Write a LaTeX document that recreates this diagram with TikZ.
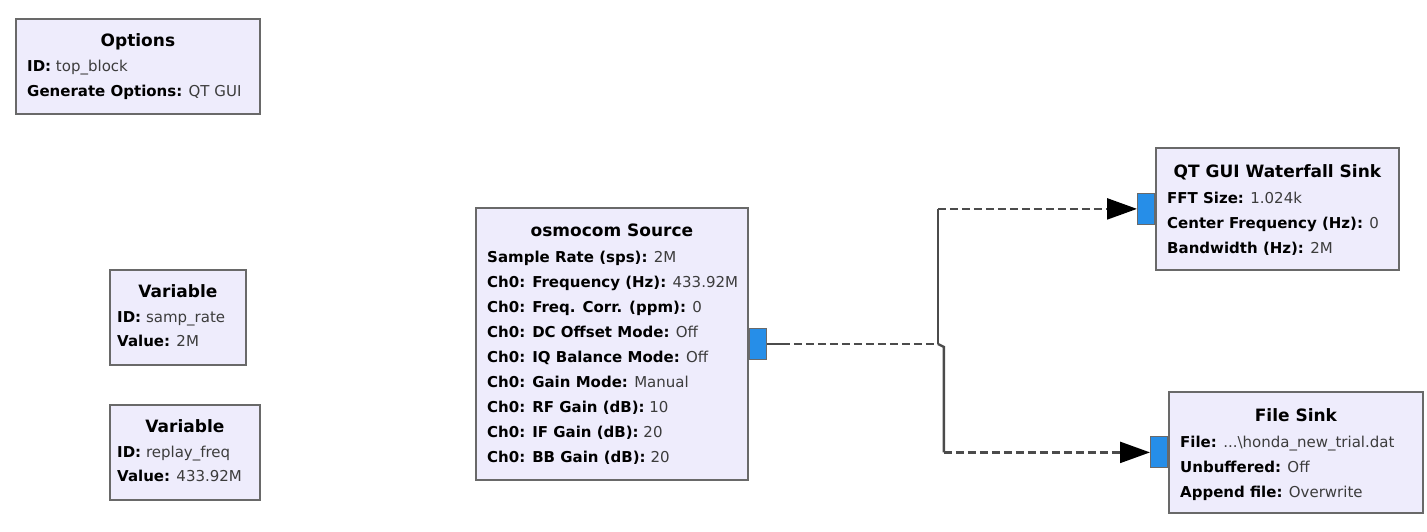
\documentclass[tikz,border=0pt]{standalone}
\usepackage{fontspec}
\setmainfont{DejaVu Sans}
\usetikzlibrary{arrows.meta}
\definecolor{blockfill}{RGB}{238,236,252}
\definecolor{blockline}{RGB}{105,105,105}
\definecolor{portblue}{RGB}{38,142,232}
\definecolor{wiregray}{RGB}{75,75,75}
\definecolor{valgray}{RGB}{60,60,60}
\tikzset{
  block/.style={draw=blockline, fill=blockfill, line width=1.8pt, anchor=north west, inner sep=0pt},
  port/.style={draw=blockline, fill=portblue, line width=1pt, minimum width=17pt, minimum height=31pt, inner sep=0pt},
  title/.style={anchor=base, inner sep=0pt, font=\bfseries\fontsize{17}{19}\selectfont},
  param/.style={anchor=base west, inner sep=0pt, font=\fontsize{15}{17}\selectfont},
  wire/.style={draw=wiregray, line width=2.4pt},
  flow/.style={wire, dash pattern=on 8pt off 4pt},
  tip/.style={-{Triangle[length=30pt,width=21pt,color=black]}}
}
\newcommand\prm[2]{\textbf{#1:} \textcolor{valgray}{#2}}
\newcommand\sinkfile{...\textbackslash honda\_new\_trial.dat}
\begin{document}
\begin{tikzpicture}[x=1pt, y=-1pt]
\useasboundingbox (0,0) rectangle (1427,532);
% blocks
\node[block, minimum width=244pt, minimum height=95pt] (opt) at (15,18) {};
\node[block, minimum width=136pt, minimum height=95pt] (samp) at (109,269) {};
\node[block, minimum width=150pt, minimum height=95pt] (rfreq) at (109,404) {};
\node[block, minimum width=272pt, minimum height=272pt] (src) at (475,207) {};
\node[block, minimum width=243pt, minimum height=122pt] (wf) at (1155,147) {};
\node[block, minimum width=254pt, minimum height=121pt] (fs) at (1168,391) {};
% ports
\node[port, anchor=west] (srcout) at (src.east) {};
\node[port, anchor=east] (wfin) at (wf.west) {};
\node[port, anchor=east] (fsin) at (fs.west) {};
% titles
\node[title] (opt-t) at ([yshift=-29pt]opt.north) {Options};
\node[title] (samp-t) at ([yshift=-28pt]samp.north) {Variable};
\node[title] (rfreq-t) at ([yshift=-28pt]rfreq.north) {Variable};
\node[title] (src-t) at ([yshift=-29pt]src.north) {osmocom Source};
\node[title] (wf-t) at ([yshift=-30pt]wf.north) {QT GUI Waterfall Sink};
\node[title] (fs-t) at ([yshift=-30pt]fs.north) {File Sink};
% parameters
\foreach \k/\v [count=\i] in {ID/top\_block, Generate Options/QT GUI}
  \node[param] (opt-\i) at ([xshift=12pt, yshift={-29pt-25pt*\i}]opt.north west) {\prm{\k}{\v}};
\foreach \k/\v [count=\i] in {ID/samp\_rate, Value/2M}
  \node[param] (samp-\i) at ([xshift=8pt, yshift={-30pt-23.5pt*\i}]samp.north west) {\prm{\k}{\v}};
\foreach \k/\v [count=\i] in {ID/replay\_freq, Value/433.92M}
  \node[param] (rfreq-\i) at ([xshift=8pt, yshift={-30pt-23.5pt*\i}]rfreq.north west) {\prm{\k}{\v}};
\foreach \k/\v [count=\i] in {Sample Rate (sps)/2M, Ch0: Frequency (Hz)/433.92M,
    Ch0: Freq. Corr. (ppm)/0, Ch0: DC Offset Mode/Off, Ch0: IQ Balance Mode/Off,
    Ch0: Gain Mode/Manual, Ch0: RF Gain (dB)/10, Ch0: IF Gain (dB)/20, Ch0: BB Gain (dB)/20}
  \node[param] (src-\i) at ([xshift=12pt, yshift={-30pt-25pt*\i}]src.north west) {\prm{\k}{\v}};
\foreach \k/\v [count=\i] in {FFT Size/1.024k, Center Frequency (Hz)/0, Bandwidth (Hz)/2M}
  \node[param] (wf-\i) at ([xshift=12pt, yshift={-31pt-25pt*\i}]wf.north west) {\prm{\k}{\v}};
\foreach \k/\v [count=\i] in {File/\sinkfile, Unbuffered/Off, Append file/Overwrite}
  \node[param] (fs-\i) at ([xshift=12pt, yshift={-31pt-25pt*\i}]fs.north west) {\prm{\k}{\v}};
% connections
\path (srcout.east) ++(15,0) coordinate (srcstub);
\path (srcout.east) ++(171,0) coordinate (upbend);
\path (upbend |- wfin.west) coordinate (upend);
\path (upbend) ++(6,3) coordinate (downbend);
\path (downbend |- fsin.west) coordinate (downend);
\draw[wire] (srcout.east) -- (srcstub);
\draw[flow] (srcstub) -- (upbend);
\draw[wire] (upbend) -- (upend);
\draw[flow, tip] (upend) -- (wfin.west);
\draw[wire] (upbend) -- (downbend) -- (downend);
\draw[flow, tip] (downend) -- (fsin.west);
\end{tikzpicture}
\end{document}
